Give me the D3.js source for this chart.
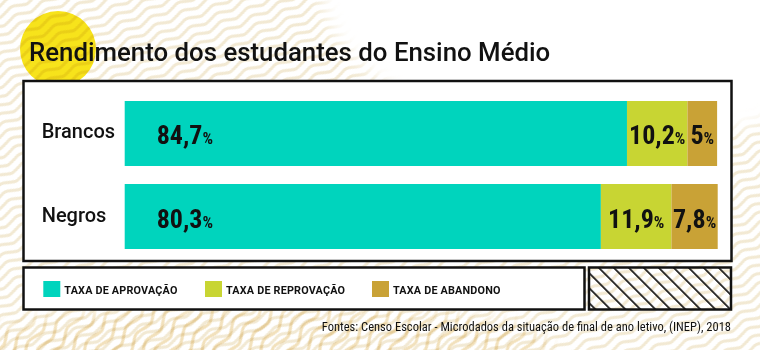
<!DOCTYPE html>
<html>
<head>
<meta charset="utf-8">
<script src="https://cdn.jsdelivr.net/npm/d3@7"></script>
<style>
  html, body { margin: 0; padding: 0; background: #fff; }
  svg { display: block; }
</style>
</head>
<body>
<svg id="chart" width="760" height="350"></svg>
<script>
// ---- data ----
const title = "Rendimento dos estudantes do Ensino Médio";
const categories = ["Brancos", "Negros"];
const seriesNames = ["TAXA DE APROVAÇÃO", "TAXA DE REPROVAÇÃO", "TAXA DE ABANDONO"];
const aprovacao = [84.7, 80.3];
const reprovacao = [10.2, 11.9];
const abandono = [5.0, 7.8];
const colors = ["#00d4bd", "#c8d533", "#c9a236"];
const source = "Fontes: Censo Escolar - Microdados da situação de final de ano letivo, (INEP), 2018";

const W = 760, H = 350;
const svg = d3.select("#chart");
const defs = svg.append("defs");

const condensed = "'Roboto Condensed', 'Liberation Sans Narrow', 'DejaVu Sans Condensed', sans-serif";

// ---- background wave patterns ----
function wavePattern(id, angle, color, sw, spacing, wl, amp) {
  const p = defs.append("pattern").attr("id", id)
    .attr("patternUnits", "userSpaceOnUse")
    .attr("width", wl).attr("height", spacing)
    .attr("patternTransform", `rotate(${angle})`);
  const m = spacing / 2;
  p.append("path")
    .attr("d", `M${-wl},${m} C${-wl*0.75},${m-amp*1.33} ${-wl*0.75},${m-amp*1.33} ${-wl/2},${m} S${-wl/4},${m+amp*1.33} 0,${m}
                 C${wl*0.25},${m-amp*1.33} ${wl*0.25},${m-amp*1.33} ${wl/2},${m} S${wl*0.75},${m+amp*1.33} ${wl},${m}
                 C${wl*1.25},${m-amp*1.33} ${wl*1.25},${m-amp*1.33} ${wl*1.5},${m} S${wl*1.75},${m+amp*1.33} ${wl*2},${m}`)
    .attr("fill", "none").attr("stroke", color).attr("stroke-width", sw);
}
wavePattern("waves", -27, "#f2e9d3", 3, 9, 30, 2.2);
wavePattern("waves2", -55, "#eed7a5", 3.2, 12, 34, 3);

const blur = defs.append("filter").attr("id", "soft").attr("x", "-50%").attr("y", "-50%").attr("width", "200%").attr("height", "200%");
blur.append("feGaussianBlur").attr("stdDeviation", 8);

const mask = defs.append("mask").attr("id", "bgmask")
  .attr("maskUnits", "userSpaceOnUse").attr("x", 0).attr("y", 0).attr("width", W).attr("height", H);
mask.append("rect").attr("width", W).attr("height", H).attr("fill", "#fff");
mask.append("ellipse").attr("cx", 610).attr("cy", -20).attr("rx", 290).attr("ry", 165)
  .attr("fill", "#000").attr("filter", "url(#soft)");

const mask2 = defs.append("mask").attr("id", "bgmask2")
  .attr("maskUnits", "userSpaceOnUse").attr("x", 0).attr("y", 0).attr("width", W).attr("height", H);
mask2.append("ellipse").attr("cx", 260).attr("cy", 345).attr("rx", 290).attr("ry", 40)
  .attr("fill", "#fff").attr("filter", "url(#soft)");

// yellow circle behind
svg.append("circle").attr("cx", 58).attr("cy", 49).attr("r", 38).attr("fill", "#f7e31b");

svg.append("rect").attr("width", W).attr("height", H)
  .attr("fill", "url(#waves)").attr("mask", "url(#bgmask)")
  .style("mix-blend-mode", "multiply");
svg.append("rect").attr("width", W).attr("height", H)
  .attr("fill", "url(#waves2)").attr("mask", "url(#bgmask2)").attr("opacity", 0.75)
  .style("mix-blend-mode", "multiply");

// ---- title ----
svg.append("text").attr("x", 29).attr("y", 61)
  .attr("font-family", "Roboto, sans-serif").attr("font-weight", 500)
  .attr("font-size", 25.8).attr("fill", "#111").text(title);

// ---- main box ----
svg.append("rect").attr("x", 23.5).attr("y", 81).attr("width", 708).attr("height", 180)
  .attr("fill", "#fff").attr("stroke", "#111").attr("stroke-width", 2.5);

// ---- scales ----
const x = d3.scaleLinear().domain([0, 100]).range([124.7, 717.7]);
const y = d3.scaleBand().domain(categories).range([101, 249]).paddingInner(0.217).paddingOuter(0);

const ptBR = d3.formatLocale({ decimal: ",", thousands: ".", grouping: [3], currency: ["R$", ""] });
const fmt = ptBR.format(".1~f");

const rows = categories.map((c, i) => ({ cat: c, vals: [aprovacao[i], reprovacao[i], abandono[i]] }));
const stackData = rows.map(r => {
  let acc = 0;
  return r.vals.map((v, k) => { const s = { cat: r.cat, k, v, x0: acc, x1: acc + v }; acc += v; return s; });
});

const g = svg.append("g");
const rowG = g.selectAll("g.row").data(stackData).join("g").attr("class", "row");

rowG.selectAll("rect").data(d => d).join("rect")
  .attr("x", d => x(d.x0))
  .attr("y", d => y(d.cat))
  .attr("width", d => x(d.x1) - x(d.x0))
  .attr("height", y.bandwidth())
  .attr("fill", d => colors[d.k]);

const labels = rowG.selectAll("text.val").data(d => d).join("text").attr("class", "val")
  .attr("x", d => d.k === 0 ? x(d.x0) + 32 : (x(d.x0) + x(d.x1)) / 2)
  .attr("y", d => y(d.cat) + y.bandwidth() / 2 + 11)
  .attr("text-anchor", d => d.k === 0 ? "start" : "middle")
  .attr("font-family", condensed).attr("fill", "#111");
labels.append("tspan").attr("font-size", 26).attr("font-weight", 700).text(d => fmt(d.v));
labels.append("tspan").attr("font-size", 16.5).attr("font-weight", 700).text("%");

// category labels
g.selectAll("text.cat").data(categories).join("text").attr("class", "cat")
  .attr("x", 41.7)
  .attr("y", d => y(d) + y.bandwidth() / 2 + 5)
  .attr("font-family", "Roboto, sans-serif").attr("font-weight", 500)
  .attr("font-size", 20).attr("fill", "#111").text(d => d);

// ---- legend box ----
svg.append("rect").attr("x", 23.5).attr("y", 267.5).attr("width", 561).attr("height", 42)
  .attr("fill", "#fff").attr("stroke", "#111").attr("stroke-width", 2.5);

const legendX = [43.3, 205, 372];
const lg = svg.selectAll("g.leg").data(seriesNames).join("g").attr("class", "leg")
  .attr("transform", (d, i) => `translate(${legendX[i]},281)`);
lg.append("rect").attr("width", 17).attr("height", 16).attr("fill", (d, i) => colors[i]);
lg.append("text").attr("x", 21).attr("y", 12.5)
  .attr("font-family", "Roboto, sans-serif").attr("font-weight", 700)
  .attr("font-size", 10.8).attr("letter-spacing", 0.2).attr("fill", "#111").text(d => d);

// ---- hatched box ----
const hatch = defs.append("pattern").attr("id", "hatch").attr("patternUnits", "userSpaceOnUse")
  .attr("width", 10.6).attr("height", 10.6).attr("patternTransform", "rotate(-45)");
hatch.append("line").attr("x1", 0).attr("y1", -1).attr("x2", 0).attr("y2", 12)
  .attr("stroke", "#111").attr("stroke-width", 3.4);
svg.append("rect").attr("x", 589).attr("y", 267.5).attr("width", 142).attr("height", 42)
  .attr("fill", "url(#hatch)").attr("stroke", "#111").attr("stroke-width", 2.5);

// ---- source ----
svg.append("text").attr("x", 731).attr("y", 331).attr("text-anchor", "end")
  .attr("font-family", condensed).attr("font-size", 12.5).attr("fill", "#111").text(source);
</script>
</body>
</html>
